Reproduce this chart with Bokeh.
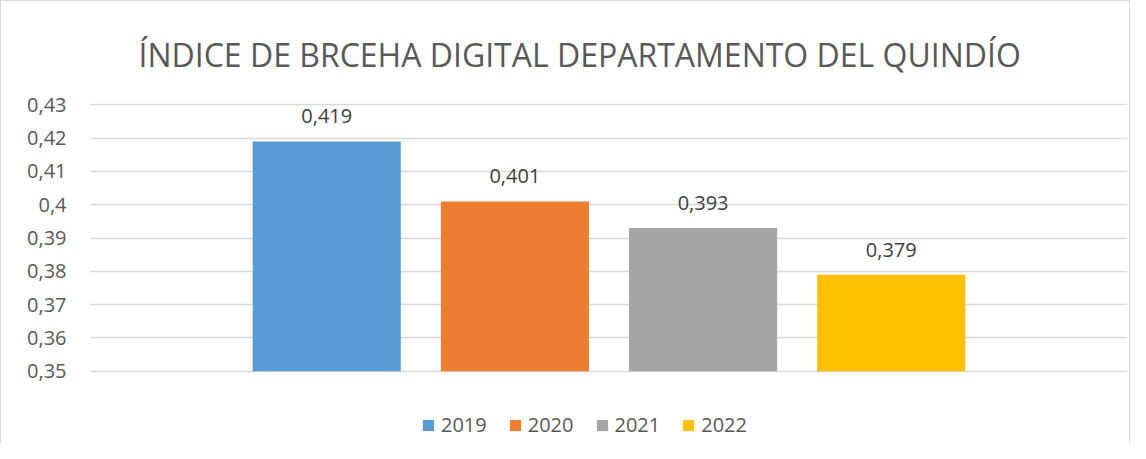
from bokeh.plotting import figure
from bokeh.models import (ColumnDataSource, Range1d, FixedTicker, LabelSet, Legend, LegendItem,
                          CustomJSTickFormatter)
from bokeh.core.properties import value
from bokeh.embed import file_html
from bokeh.resources import INLINE

title_text = "ÍNDICE DE BRCEHA DIGITAL DEPARTAMENTO DEL QUINDÍO"
years = ["2019", "2020", "2021", "2022"]
values = [0.419, 0.401, 0.393, 0.379]
colors = ["#5B9BD5", "#ED7D31", "#A5A5A5", "#FFC000"]
y_ticks = [0.35, 0.36, 0.37, 0.38, 0.39, 0.40, 0.41, 0.42, 0.43]
y_tick_labels = ["0,35", "0,36", "0,37", "0,38", "0,39", "0,4", "0,41", "0,42", "0,43"]

FONT = "Open Sans"
TXT = "#595959"

xs = [i - (len(years) - 1) / 2 for i in range(len(years))]
labels = [f"{v:.3f}".replace(".", ",") for v in values]
src = ColumnDataSource(dict(x=xs, top=values, year=years, color=colors, label=labels))

p = figure(width=1130, height=443, output_backend="svg", toolbar_location=None,
           x_range=Range1d(-2.7553, 2.7553), y_range=Range1d(0.32801, 0.43039),
           min_border_left=89, min_border_right=4, min_border_top=102, min_border_bottom=0)
p.outline_line_color = None
p.background_fill_color = "white"
p.border_fill_color = "white"
p.styles = {"border-left": "1px solid #D9D9D9", "border-top": "1px solid #D9D9D9",
            "border-right": "1px solid #D9D9D9"}

p.title.text = title_text
p.title.text_font = FONT
p.title.text_font_size = "32px"
p.title.text_font_style = "normal"
p.title.text_color = TXT
p.title.align = "left"
p.title.offset = 48
p.title.standoff = 56

bars = p.vbar(x="x", top="top", bottom=0.35, width=0.787, fill_color="color",
              line_color=None, source=src)

p.xaxis.visible = False
p.xgrid.visible = False
p.ygrid.grid_line_color = "#D9D9D9"
p.ygrid.grid_line_width = 1.3
yax = p.yaxis[0]
yax.ticker = FixedTicker(ticks=y_ticks)
yax.formatter = CustomJSTickFormatter(
    args=dict(tick_vals=y_ticks, tick_texts=y_tick_labels),
    code="const i = tick_vals.findIndex(t => Math.abs(t - tick) < 1e-9); return i >= 0 ? tick_texts[i] : String(tick);")
yax.axis_line_color = None
yax.major_tick_line_color = None
yax.minor_tick_line_color = None
yax.major_tick_out = 0
yax.major_tick_in = 0
yax.major_label_text_font = FONT
yax.major_label_text_font_size = "20px"
yax.major_label_text_color = TXT
yax.major_label_standoff = 24

ls = LabelSet(x="x", y="top", text="label", source=src, text_align="center",
              text_baseline="middle", y_offset=25, text_font_size="20px",
              text_color="#404040", text_font=value(FONT))
p.add_layout(ls)

items = [LegendItem(label=y, renderers=[bars], index=i) for i, y in enumerate(years)]
legend = Legend(items=items, orientation="horizontal", location=(331, 6),
                label_text_font=FONT, label_text_font_size="20px", label_text_color=TXT,
                glyph_width=14, glyph_height=14, spacing=21, label_standoff=6,
                label_height=20, border_line_color=None, background_fill_alpha=0,
                margin=0, padding=0)
p.add_layout(legend)

open("out.html", "w").write(file_html(p, INLINE))
